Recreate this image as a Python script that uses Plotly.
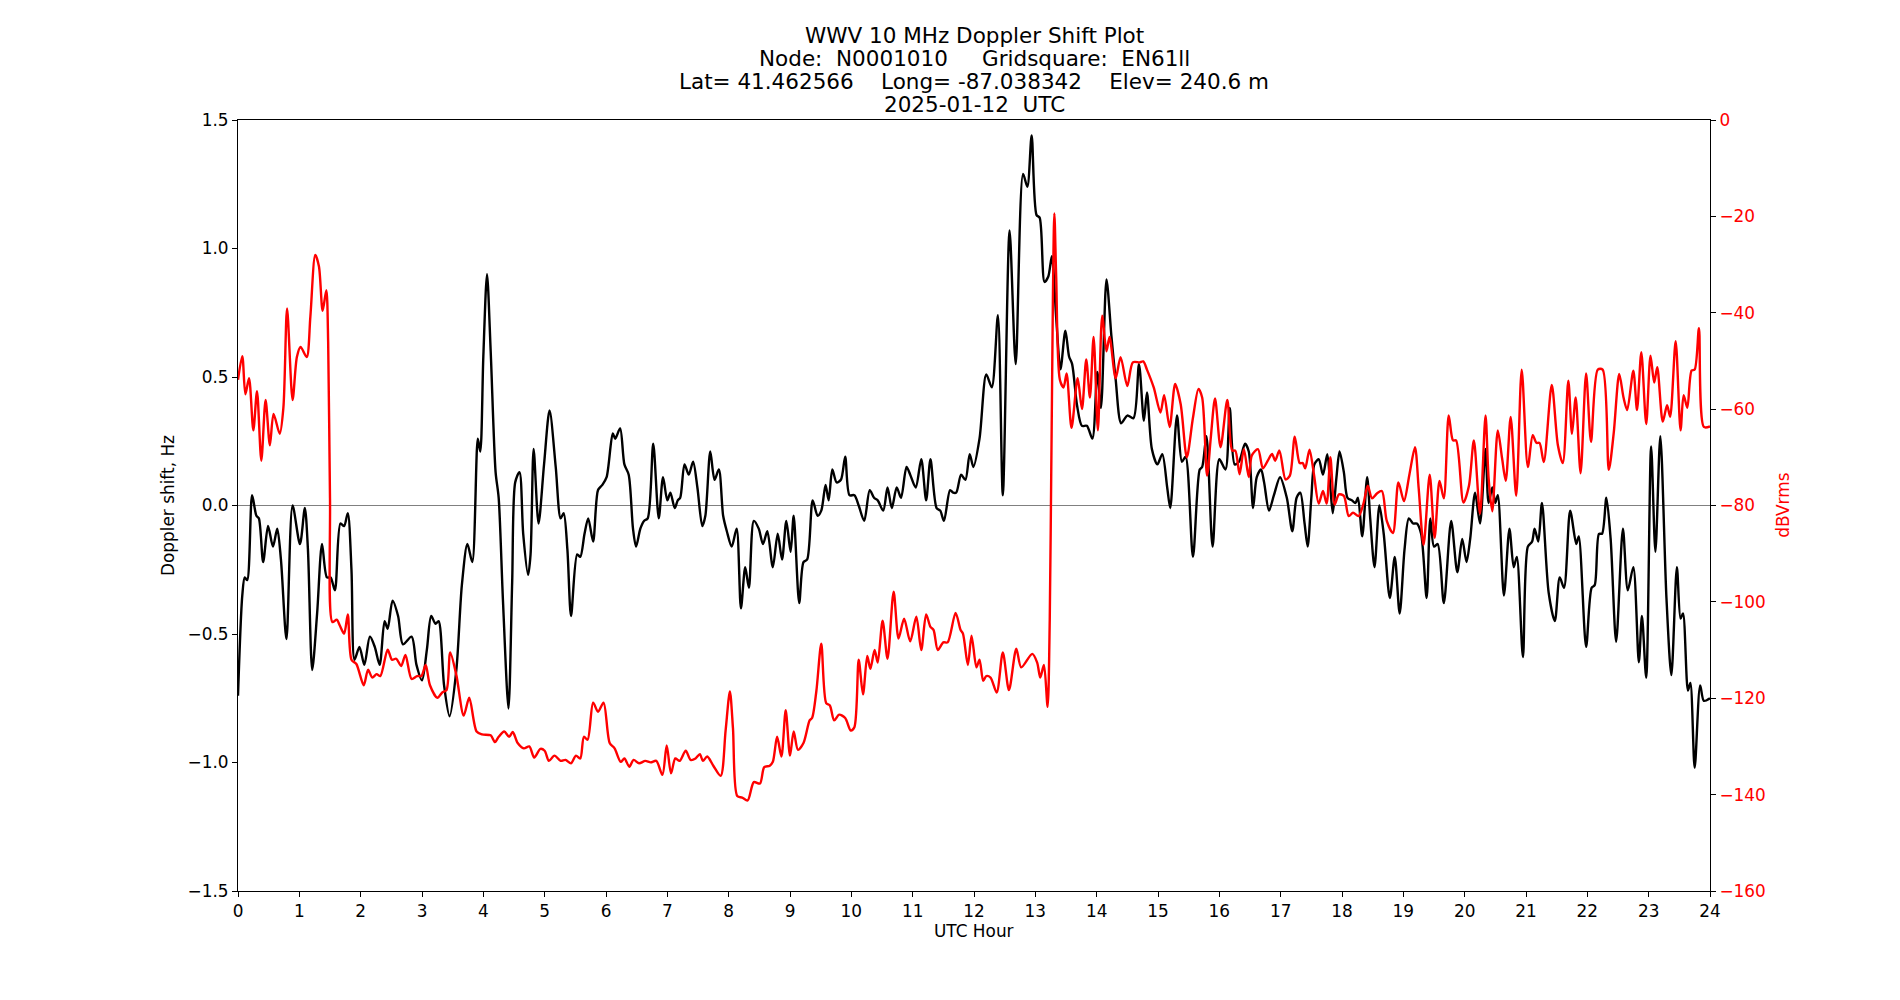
import plotly.graph_objects as go

# ---------------- data ----------------
hours_doppler = [
    0.0, 0.07, 0.11, 0.15, 0.23, 0.30, 0.34, 0.41, 0.49, 0.57, 0.64, 0.70, 0.79, 0.89, 1.01, 1.09, 1.14,
    1.21, 1.29, 1.37, 1.45, 1.51, 1.58, 1.67, 1.73, 1.79, 1.85, 1.90, 1.98, 2.06, 2.15, 2.23, 2.31, 2.39,
    2.44, 2.52, 2.61, 2.69, 2.83, 2.91, 3.00, 3.08, 3.15, 3.22, 3.27, 3.36, 3.45, 3.56, 3.65, 3.74, 3.82,
    3.91, 3.95, 4.00, 4.06, 4.12, 4.20, 4.25, 4.32, 4.41, 4.47, 4.52, 4.59, 4.65, 4.73, 4.77, 4.82, 4.90,
    4.99, 5.08, 5.18, 5.26, 5.31, 5.37, 5.43, 5.53, 5.58, 5.65, 5.71, 5.79, 5.87, 5.94, 6.01, 6.11, 6.15,
    6.23, 6.30, 6.37, 6.44, 6.49, 6.56, 6.62, 6.68, 6.77, 6.86, 6.93, 7.00, 7.05, 7.12, 7.17, 7.21, 7.28,
    7.35, 7.42, 7.49, 7.57, 7.62, 7.70, 7.77, 7.84, 7.91, 7.97, 8.05, 8.13, 8.20, 8.27, 8.33, 8.41, 8.49,
    8.56, 8.63, 8.72, 8.80, 8.87, 8.94, 9.01, 9.06, 9.15, 9.22, 9.28, 9.37, 9.45, 9.51, 9.58, 9.63, 9.69,
    9.76, 9.83, 9.90, 9.97, 10.05, 10.12, 10.21, 10.30, 10.37, 10.43, 10.52, 10.59, 10.66, 10.74, 10.81,
    10.90, 10.96, 11.05, 11.14, 11.22, 11.29, 11.39, 11.45, 11.51, 11.61, 11.66, 11.71, 11.79, 11.86,
    11.93, 11.99, 12.09, 12.20, 12.29, 12.39, 12.47, 12.58, 12.68, 12.80, 12.87, 12.94, 13.02, 13.07,
    13.15, 13.21, 13.27, 13.34, 13.41, 13.49, 13.55, 13.60, 13.68, 13.76, 13.84, 13.93, 14.01, 14.07,
    14.16, 14.24, 14.31, 14.40, 14.50, 14.60, 14.69, 14.77, 14.82, 14.90, 14.99, 15.07, 15.15, 15.20,
    15.31, 15.39, 15.45, 15.57, 15.68, 15.72, 15.79, 15.89, 16.00, 16.10, 16.17, 16.25, 16.32, 16.42,
    16.48, 16.55, 16.61, 16.68, 16.73, 16.81, 16.89, 16.99, 17.10, 17.19, 17.26, 17.32, 17.39, 17.44,
    17.50, 17.55, 17.62, 17.69, 17.76, 17.81, 17.85, 17.91, 17.96, 18.03, 18.09, 18.16, 18.22, 18.26,
    18.33, 18.41, 18.46, 18.53, 18.61, 18.68, 18.78, 18.86, 18.94, 19.02, 19.09, 19.16, 19.22, 19.29,
    19.38, 19.44, 19.50, 19.56, 19.66, 19.78, 19.88, 19.96, 20.03, 20.09, 20.17, 20.25, 20.34, 20.39,
    20.45, 20.50, 20.54, 20.64, 20.73, 20.80, 20.85, 20.95, 21.03, 21.10, 21.14, 21.20, 21.26, 21.37,
    21.47, 21.55, 21.62, 21.72, 21.82, 21.86, 21.98, 22.07, 22.12, 22.19, 22.24, 22.31, 22.38, 22.47,
    22.58, 22.66, 22.75, 22.84, 22.89, 22.96, 23.04, 23.11, 23.19, 23.29, 23.37, 23.46, 23.52, 23.56,
    23.64, 23.68, 23.75, 23.84, 23.90, 24.00,
]
doppler_hz = [
    -0.74, -0.35, -0.28, -0.29, 0.04, -0.04, -0.05, -0.22, -0.08, -0.16, -0.09, -0.21, -0.52, 0.00, -0.15,
    -0.01, -0.17, -0.64, -0.42, -0.15, -0.28, -0.28, -0.33, -0.07, -0.08, -0.03, -0.25, -0.60, -0.55,
    -0.62, -0.51, -0.55, -0.62, -0.45, -0.48, -0.37, -0.43, -0.54, -0.51, -0.62, -0.68, -0.56, -0.43,
    -0.46, -0.45, -0.70, -0.82, -0.64, -0.31, -0.15, -0.22, 0.26, 0.21, 0.58, 0.90, 0.60, 0.13, 0.03,
    -0.37, -0.79, -0.30, 0.09, 0.13, -0.11, -0.27, -0.19, 0.22, -0.07, 0.16, 0.37, 0.15, -0.05, -0.03,
    -0.17, -0.43, -0.19, -0.20, -0.11, -0.05, -0.14, 0.06, 0.08, 0.11, 0.28, 0.26, 0.30, 0.16, 0.12,
    -0.09, -0.16, -0.09, -0.06, -0.05, 0.24, -0.05, 0.11, 0.02, 0.05, -0.01, 0.02, 0.03, 0.16, 0.12,
    0.17, 0.07, -0.08, -0.04, 0.21, 0.10, 0.14, -0.04, -0.10, -0.16, -0.09, -0.40, -0.24, -0.32, -0.06,
    -0.09, -0.15, -0.10, -0.24, -0.11, -0.21, -0.06, -0.18, -0.04, -0.38, -0.22, -0.21, 0.02, -0.04,
    -0.02, 0.08, 0.02, 0.14, 0.09, 0.10, 0.19, 0.04, 0.04, 0.00, -0.06, 0.06, 0.03, 0.02, -0.02, 0.07,
    -0.01, 0.07, 0.03, 0.15, 0.12, 0.07, 0.18, 0.02, 0.18, -0.01, -0.02, -0.06, 0.06, 0.05, 0.05, 0.12,
    0.10, 0.20, 0.15, 0.26, 0.51, 0.46, 0.74, 0.04, 1.07, 0.55, 1.29, 1.24, 1.44, 1.13, 1.12, 0.87,
    0.89, 0.97, 0.73, 0.53, 0.68, 0.58, 0.55, 0.39, 0.31, 0.31, 0.26, 0.52, 0.38, 0.88, 0.66, 0.49,
    0.32, 0.35, 0.34, 0.55, 0.33, 0.44, 0.22, 0.16, 0.20, 0.07, -0.01, 0.35, 0.17, 0.19, -0.20, 0.14,
    0.15, 0.27, -0.16, 0.18, 0.14, 0.38, 0.16, 0.17, 0.24, 0.21, -0.01, 0.11, 0.14, 0.09, -0.02, 0.04,
    0.11, 0.03, -0.10, 0.03, 0.05, -0.07, -0.16, 0.03, 0.16, 0.18, 0.12, 0.20, 0.07, -0.03, 0.11, 0.21,
    0.13, 0.03, 0.02, 0.01, 0.03, -0.12, 0.11, -0.05, -0.24, 0.00, -0.11, -0.36, -0.20, -0.42, -0.17,
    -0.05, -0.07, -0.07, -0.11, -0.36, -0.05, -0.16, -0.15, -0.38, -0.06, -0.26, -0.13, -0.22, -0.13,
    0.05, -0.07, 0.22, 0.01, 0.07, 0.01, 0.04, -0.35, -0.09, -0.24, -0.20, -0.59, -0.16, -0.14, -0.09,
    -0.14, 0.01, -0.34, -0.45, -0.28, -0.32, -0.02, -0.15, -0.12, -0.55, -0.32, -0.31, -0.11, -0.11,
    0.03, -0.13, -0.53, -0.09, -0.33, -0.24, -0.61, -0.43, -0.67, 0.23, -0.18, 0.27, -0.36, -0.66,
    -0.24, -0.44, -0.42, -0.72, -0.69, -1.02, -0.70, -0.76, -0.75,
]

hours_power = [
    0.0, 0.07, 0.12, 0.18, 0.25, 0.31, 0.38, 0.45, 0.52, 0.58, 0.68, 0.74, 0.80, 0.89, 0.96, 1.02, 1.12,
    1.18, 1.26, 1.32, 1.38, 1.44, 1.47, 1.50, 1.54, 1.61, 1.66, 1.73, 1.79, 1.85, 1.93, 2.05, 2.12, 2.19,
    2.26, 2.32, 2.44, 2.51, 2.58, 2.66, 2.73, 2.83, 2.92, 2.99, 3.06, 3.13, 3.25, 3.33, 3.40, 3.46, 3.56,
    3.68, 3.77, 3.89, 3.98, 4.12, 4.19, 4.25, 4.34, 4.42, 4.48, 4.56, 4.66, 4.75, 4.83, 4.93, 5.00, 5.07,
    5.16, 5.26, 5.34, 5.43, 5.51, 5.58, 5.64, 5.70, 5.79, 5.87, 5.96, 6.06, 6.14, 6.24, 6.30, 6.38, 6.45,
    6.54, 6.64, 6.73, 6.82, 6.92, 6.99, 7.06, 7.13, 7.20, 7.30, 7.38, 7.46, 7.53, 7.58, 7.65, 7.75, 7.87,
    7.95, 8.02, 8.07, 8.14, 8.22, 8.31, 8.41, 8.51, 8.58, 8.67, 8.72, 8.79, 8.86, 8.93, 9.00, 9.06, 9.13,
    9.22, 9.32, 9.36, 9.43, 9.51, 9.59, 9.65, 9.72, 9.80, 9.90, 9.99, 10.05, 10.12, 10.19, 10.26, 10.31,
    10.38, 10.43, 10.51, 10.59, 10.69, 10.77, 10.86, 10.96, 11.06, 11.14, 11.22, 11.29, 11.34, 11.41,
    11.50, 11.57, 11.70, 11.78, 11.82, 11.90, 11.96, 12.04, 12.09, 12.15, 12.20, 12.27, 12.37, 12.47,
    12.57, 12.69, 12.77, 12.95, 13.03, 13.08, 13.14, 13.20, 13.235, 13.26, 13.31, 13.34, 13.40, 13.46,
    13.51, 13.59, 13.69, 13.76, 13.83, 13.89, 13.95, 14.02, 14.09, 14.16, 14.21, 14.31, 14.39, 14.50,
    14.59, 14.70, 14.76, 14.82, 14.93, 15.04, 15.10, 15.19, 15.28, 15.37, 15.47, 15.57, 15.66, 15.72,
    15.80, 15.86, 15.93, 16.02, 16.13, 16.21, 16.26, 16.33, 16.40, 16.48, 16.53, 16.63, 16.71, 16.79,
    16.86, 16.91, 16.98, 17.08, 17.15, 17.23, 17.31, 17.36, 17.40, 17.47, 17.54, 17.62, 17.69, 17.75,
    17.81, 17.88, 17.95, 18.03, 18.11, 18.18, 18.27, 18.35, 18.42, 18.49, 18.57, 18.65, 18.73, 18.83,
    18.92, 19.01, 19.10, 19.19, 19.25, 19.33, 19.43, 19.51, 19.59, 19.66, 19.74, 19.81, 19.86, 19.98,
    20.07, 20.15, 20.25, 20.34, 20.39, 20.45, 20.54, 20.61, 20.67, 20.75, 20.84, 20.93, 21.03, 21.11,
    21.17, 21.22, 21.29, 21.42, 21.52, 21.60, 21.69, 21.75, 21.81, 21.89, 21.98, 22.06, 22.17, 22.25,
    22.35, 22.43, 22.52, 22.59, 22.65, 22.75, 22.81, 22.88, 22.96, 23.03, 23.09, 23.14, 23.23, 23.30,
    23.35, 23.44, 23.52, 23.57, 23.63, 23.70, 23.75, 23.82, 23.90, 24.00,
]
power_dbv = [
    -53.9, -49.0, -56.9, -53.6, -64.4, -56.3, -70.7, -58.1, -67.5, -61.0, -65.1, -59.7, -39.1, -58.1,
    -49.2, -47.1, -49.2, -40.8, -28.0, -30.4, -39.6, -35.3, -46.1, -78.5, -104.2, -103.7, -104.9,
    -106.6, -102.6, -112.0, -112.9, -117.3, -114.1, -115.7, -115.0, -115.4, -109.9, -112.0, -111.8,
    -113.3, -111.0, -116.0, -115.4, -115.4, -113.1, -117.3, -119.9, -118.8, -118.3, -110.5, -115.2,
    -123.6, -119.9, -126.9, -127.5, -127.7, -129.1, -128.0, -126.9, -128.0, -127.0, -129.3, -130.4,
    -130.0, -132.3, -130.5, -130.9, -133.0, -131.9, -133.0, -132.8, -133.5, -131.9, -132.5, -128.0,
    -128.6, -120.9, -122.8, -120.9, -129.3, -130.4, -133.2, -132.5, -134.2, -132.8, -133.5, -133.0,
    -133.3, -133.0, -135.9, -129.8, -135.6, -132.5, -133.0, -130.9, -132.8, -132.5, -131.6, -133.0,
    -132.1, -134.0, -136.1, -126.7, -118.6, -126.2, -140.3, -140.6, -141.2, -137.4, -137.7, -134.3,
    -134.0, -133.2, -128.0, -132.1, -122.5, -131.9, -126.9, -130.7, -129.3, -124.6, -124.1, -118.5,
    -108.7, -121.0, -121.5, -124.6, -123.4, -124.1, -126.7, -126.0, -112.0, -119.2, -111.2, -113.9,
    -110.0, -112.6, -103.9, -111.8, -97.9, -107.6, -103.5, -108.2, -103.1, -110.0, -102.6, -105.2,
    -105.8, -110.0, -108.4, -108.4, -102.3, -105.8, -106.6, -113.1, -107.0, -113.6, -112.0, -116.4,
    -115.4, -115.7, -118.8, -110.5, -118.3, -109.7, -113.6, -110.8, -112.6, -115.7, -113.1, -121.8,
    -103.7, -72.3, -19.4, -32.5, -53.9, -55.5, -52.6, -63.9, -53.6, -60.0, -49.7, -57.6, -45.0, -64.4,
    -40.6, -48.0, -45.0, -53.6, -49.2, -55.2, -50.3, -50.3, -50.1, -51.8, -55.5, -60.7, -57.1, -63.7,
    -54.8, -59.0, -70.0, -61.8, -55.8, -57.6, -73.8, -66.0, -57.8, -67.9, -58.1, -68.6, -68.6, -73.5,
    -68.3, -74.1, -69.6, -68.3, -72.3, -70.7, -69.3, -70.7, -68.6, -74.6, -73.8, -65.7, -71.2, -71.2,
    -72.3, -68.4, -73.3, -79.6, -77.0, -79.6, -70.0, -79.8, -77.7, -78.0, -82.2, -81.5, -82.2, -79.6,
    -75.9, -78.5, -77.5, -77.0, -83.2, -85.7, -75.2, -79.1, -73.5, -67.9, -76.4, -88.2, -73.6, -86.7,
    -74.9, -78.5, -61.3, -66.5, -66.5, -79.4, -75.9, -66.5, -81.7, -61.3, -74.3, -81.2, -64.4, -70.2,
    -74.9, -61.6, -78.0, -51.8, -72.0, -65.4, -67.0, -67.0, -71.0, -55.0, -67.5, -71.2, -54.1, -65.1,
    -57.6, -73.3, -52.6, -66.8, -51.8, -51.8, -72.6, -65.0, -52.7, -57.6, -60.2, -52.0, -60.2, -48.2,
    -63.1, -48.9, -54.5, -51.3, -62.6, -59.2, -61.6, -45.9, -64.4, -57.1, -59.7, -52.0, -51.8, -43.2,
    -63.7, -63.6,
]

x_ticks = list(range(0, 25))
x_tick_labels = [str(h) for h in x_ticks]
y_ticks = [-1.5, -1.0, -0.5, 0.0, 0.5, 1.0, 1.5]
y_tick_labels = ["\u22121.5", "\u22121.0", "\u22120.5", "0.0", "0.5", "1.0", "1.5"]
y2_ticks = [-160, -140, -120, -100, -80, -60, -40, -20, 0]
y2_tick_labels = ["\u2212160", "\u2212140", "\u2212120", "\u2212100", "\u221280", "\u221260",
                  "\u221240", "\u221220", "0"]

title_lines = [
    "WWV 10 MHz Doppler Shift Plot",
    "Node:  N0001010     Gridsquare:  EN61ll",
    "Lat= 41.462566    Long= -87.038342    Elev= 240.6 m",
    "2025-01-12  UTC",
]

# ---------------- figure ----------------
FONT = "DejaVu Sans"
TICK_SIZE = 16.9
TITLE_SIZE = 21.5

fig = go.Figure()
fig.add_trace(go.Scatter(
    x=hours_doppler, y=doppler_hz, mode="lines", yaxis="y",
    line=dict(color="black", width=2.4, shape="spline", smoothing=0.8),
    showlegend=False, hoverinfo="skip",
))
fig.add_trace(go.Scatter(
    x=hours_power, y=power_dbv, mode="lines", yaxis="y2",
    line=dict(color="#ff0000", width=2.4, shape="spline", smoothing=0.8),
    showlegend=False, hoverinfo="skip",
))

fig.add_shape(type="line", xref="paper", x0=0, x1=1, yref="y", y0=0, y1=0,
              line=dict(color="#808080", width=1), layer="below")

axis_common = dict(
    showgrid=False, zeroline=False, ticks="outside", ticklen=5, tickwidth=1,
    tickcolor="black", linecolor="black", linewidth=1,
)

fig.update_layout(
    width=1900, height=1000,
    margin=dict(l=237.5, r=190.3, t=120, b=109.4, autoexpand=False),
    paper_bgcolor="white", plot_bgcolor="white",
    font=dict(family=FONT, size=TICK_SIZE, color="black"),
    xaxis=dict(
        range=[0, 24], tickvals=x_ticks, ticktext=x_tick_labels,
        showline=True, mirror=True, tickfont=dict(size=TICK_SIZE, color="black"),
        **axis_common,
    ),
    yaxis=dict(
        range=[-1.5, 1.5], tickvals=y_ticks, ticktext=y_tick_labels,
        showline=True, mirror=True, tickfont=dict(size=TICK_SIZE, color="black"),
        **axis_common,
    ),
    yaxis2=dict(
        range=[-160, 0], tickvals=y2_ticks, ticktext=y2_tick_labels,
        overlaying="y", side="right", showline=False,
        tickfont=dict(size=TICK_SIZE, color="#ff0000"),
        showgrid=False, zeroline=False, ticks="outside", ticklen=5, tickwidth=1,
        tickcolor="black",
    ),
)

# title lines
title_y_px = [36, 58.5, 81.5, 105]
plot_top, plot_h = 120, 770.6
for txt, ypx in zip(title_lines, title_y_px):
    fig.add_annotation(
        text=txt, xref="paper", yref="paper", x=0.5, y=(plot_top + plot_h - ypx) / plot_h,
        xanchor="center", yanchor="middle", showarrow=False,
        font=dict(family=FONT, size=TITLE_SIZE, color="black"),
    )

# axis titles
fig.add_annotation(text="UTC Hour", xref="paper", yref="paper", x=0.5,
                   y=(890.6 - 930.5) / plot_h, xanchor="center", yanchor="middle",
                   showarrow=False, font=dict(family=FONT, size=TICK_SIZE, color="black"))
fig.add_annotation(text="Doppler shift, Hz", xref="paper", yref="paper",
                   x=(167 - 237.5) / 1472.2, y=0.5, xanchor="center", yanchor="middle",
                   textangle=-90, showarrow=False,
                   font=dict(family=FONT, size=TICK_SIZE, color="black"))
fig.add_annotation(text="dBVrms", xref="paper", yref="paper",
                   x=(1782 - 237.5) / 1472.2, y=0.5, xanchor="center", yanchor="middle",
                   textangle=-90, showarrow=False,
                   font=dict(family=FONT, size=TICK_SIZE, color="#ff0000"))

fig.write_html("out.html")
